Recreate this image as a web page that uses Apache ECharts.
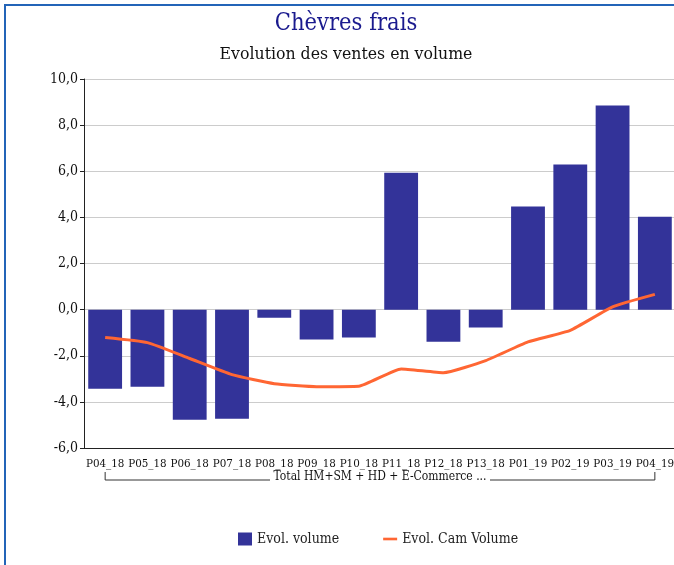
<!DOCTYPE html>
<html>
<head>
<meta charset="utf-8">
<script src="https://cdn.jsdelivr.net/npm/echarts@6/dist/echarts.min.js"></script>
<style>
  html, body { margin: 0; padding: 0; background: #fff; overflow: hidden; }
  #frame { position: absolute; left: 4px; top: 4px; width: 720px; height: 620px; border: 2px solid #2364b8; }
  /* the source chart is wider than the window and gets cropped on the right */
  #chart { position: absolute; left: 0; top: 0; width: 692px; height: 565px; }
</style>
</head>
<body>
<div id="frame"></div>
<div id="chart"></div>
<script>
// periods
const categories = ['P04_18', 'P05_18', 'P06_18', 'P07_18', 'P08_18', 'P09_18', 'P10_18',
  'P11_18', 'P12_18', 'P13_18', 'P01_19', 'P02_19', 'P03_19', 'P04_19'];
// evol. volume (bars)
const evolVolume = [-3.43, -3.34, -4.77, -4.73, -0.35, -1.30, -1.21,
  5.94, -1.39, -0.78, 4.47, 6.29, 8.85, 4.03];
// evol. cumul annuel mobile (line)
const evolCamVolume = [-1.21, -1.43, -2.12, -2.82, -3.21, -3.34, -3.32,
  -2.57, -2.74, -2.21, -1.40, -0.90, 0.12, 0.66];
const groupLabel = 'Total HM+SM + HD + E-Commerce ...';

const FONT = '"DejaVu Serif Condensed", "DejaVu Serif", serif';
const chart = echarts.init(document.getElementById('chart'));

const option = {
  animation: false,
  backgroundColor: 'transparent',
  title: [
    {
      text: 'Chèvres frais',
      left: 'center', top: 7,
      textStyle: { fontFamily: FONT, fontSize: 23.5, fontWeight: 'normal', color: '#1a1a8e' }
    },
    {
      text: 'Evolution des ventes en volume',
      left: 'center', top: 40,
      textStyle: { fontFamily: FONT, fontSize: 17.5, fontWeight: 'normal', color: '#111' }
    }
  ],
  grid: { left: 84, right: 16, top: 79, bottom: 117 },
  legend: {
    bottom: 14, left: 233,
    itemGap: 44, itemWidth: 14, itemHeight: 13,
    textStyle: { fontFamily: FONT, fontSize: 14, color: '#222' },
    data: [
      { name: 'Evol. volume', icon: 'rect' },
      { name: 'Evol. Cam Volume', icon: 'path://M0,0 H16 V3 H0 Z' }
    ]
  },
  xAxis: {
    type: 'category',
    data: categories,
    axisLine: { show: true, onZero: false, lineStyle: { color: '#222', width: 1 } },
    axisTick: { show: false },
    axisLabel: { interval: 0, margin: 10, fontFamily: FONT, fontSize: 11.5, color: '#111' }
  },
  yAxis: {
    type: 'value',
    min: -6, max: 10, interval: 2,
    axisLine: { show: true, lineStyle: { color: '#222', width: 1 } },
    axisTick: { show: true, length: 4, lineStyle: { color: '#222' } },
    splitLine: { lineStyle: { color: '#cccccc', width: 1 } },
    axisLabel: {
      margin: 6, fontFamily: FONT, fontSize: 14, color: '#111',
      formatter: v => v.toFixed(1).replace('.', ',')
    }
  },
  series: [
    {
      name: 'Evol. volume',
      type: 'bar',
      data: evolVolume,
      barWidth: '80%',
      itemStyle: { color: '#333399' }
    },
    {
      name: 'Evol. Cam Volume',
      type: 'line',
      data: evolCamVolume,
      smooth: 0.15,
      symbol: 'none',
      lineStyle: { color: '#ff6633', width: 3 },
      itemStyle: { color: '#ff6633' }
    }
  ]
};
chart.setOption(option);

// group bracket under the category labels, placed from the axis scale
const p0 = chart.convertToPixel({ xAxisIndex: 0 }, categories[0]);
const p1 = chart.convertToPixel({ xAxisIndex: 0 }, categories[categories.length - 1]);
const mid = (p0 + p1) / 2;
const yLine = 480, tickTop = 472, gapHalf = 110;
chart.setOption({
  graphic: [
    { type: 'polyline', shape: { points: [[p0, tickTop], [p0, yLine], [mid - gapHalf, yLine]] },
      style: { stroke: '#333', lineWidth: 1, fill: null } },
    { type: 'polyline', shape: { points: [[mid + gapHalf, yLine], [p1, yLine], [p1, tickTop]] },
      style: { stroke: '#333', lineWidth: 1, fill: null } },
    { type: 'text', x: mid, y: 477,
      style: { text: groupLabel, fontFamily: FONT, fontSize: 12, fill: '#111', align: 'center', verticalAlign: 'middle' } }
  ]
});
</script>
</body>
</html>
